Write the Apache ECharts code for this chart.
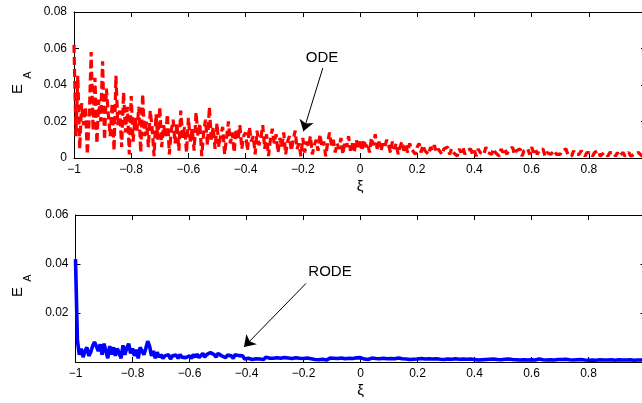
<!DOCTYPE html>
<html><head><meta charset="utf-8">
<script src="https://cdn.jsdelivr.net/npm/echarts@6/dist/echarts.min.js"></script>
<style>html,body{margin:0;padding:0;background:#fff;overflow:hidden}#c{width:642px;height:403px}</style>
</head><body><div id="c"></div>
<script>
// ---- data ----
const xiRange = [-1, 1];
const xiTickStep = 0.2;
const odeYTicks = [0, 0.02, 0.04, 0.06, 0.08];
const rodeYTicks = [0.02, 0.04, 0.06];

// E_A of the ODE solution, sampled uniformly over xi in [-1, 1]
const odeError = [
0.062,0.012,0.045,0.005,0.030,0.018,0.028,0.002,0.022,0.058,0.015,0.044,0.008,0.032,0.020,
0.053,0.010,0.038,0.024,0.012,0.030,0.004,0.045,0.018,0.026,0.006,0.036,0.014,0.028,0.002,
0.034,0.009,0.022,0.015,0.028,0.003,0.035,0.012,0.020,0.006,0.026,0.016,0.001,0.024,0.010,
0.028,0.006,0.018,0.012,0.024,0.002,0.015,0.021,0.008,0.019,0.004,0.026,0.011,0.017,0.003,
0.022,0.009,0.016,0.004,0.025,0.012,0.019,0.001,0.014,0.021,0.007,0.028,0.010,0.017,0.005,
0.019,0.006,0.013,0.017,0.002,0.011,0.020,0.008,0.014,0.003,0.016,0.010,0.018,0.005,0.012,
0.014,0.004,0.017,0.009,0.012,0.002,0.015,0.007,0.011,0.018,0.005,0.013,0.001,0.010,0.016,
0.008,0.013,0.003,0.011,0.006,0.014,0.002,0.009,0.012,0.004,0.010,0.015,0.005,0.008,0.001,
0.011,0.003,0.009,0.006,0.012,0.002,0.007,0.010,0.004,0.013,0.006,0.009,0.001,0.008,0.014,
0.007,0.010,0.003,0.008,0.005,0.011,0.002,0.009,0.006,0.012,0.004,0.008,0.003,0.010,0.006,
0.009,0.004,0.010,0.006,0.008,0.003,0.011,0.007,0.013,0.005,0.009,0.004,0.008,0.006,0.010,
0.007,0.003,0.009,0.005,0.008,0.002,0.006,0.009,0.004,0.007,0.003,0.008,0.005,0.006,0.002,
0.006,0.008,0.003,0.007,0.004,0.005,0.002,0.006,0.004,0.007,0.003,0.005,0.006,0.002,0.005,
0.004,0.006,0.002,0.005,0.003,0.004,0.001,0.005,0.003,0.006,0.002,0.004,0.003,0.005,0.002,
0.004,0.001,0.005,0.003,0.004,0.002,0.006,0.003,0.004,0.002,0.005,0.003,0.004,0.001,0.005,
0.003,0.005,0.002,0.004,0.003,0.006,0.002,0.004,0.003,0.005,0.001,0.004,0.003,0.005,0.002,
0.006,0.003,0.005,0.002,0.004,0.003,0.005,0.001,0.003,0.004,0.002,0.003,0.004,0.002,0.003,
0.002,0.004,0.003,0.005,0.002,0.003,0.001,0.004,0.002,0.003,0.002,0.004,0.003,0.001,0.003,
0.002,0.003,0.001,0.003,0.002,0.004,0.001,0.002,0.003,0.002,0.001,0.003,0.002,0.003,0.001,
0.003,0.001,0.002,0.003,0.001,0.002,0.003,0.001,0.002,0.002,0.001,0.003,0.002,0.001,0.002,
0.002
];

// E_A of the RODE solution, sampled uniformly over xi in [-1, 1]
const rodeError = [
0.042,0.009,0.003,0.0055,0.002,0.0045,0.006,0.0025,0.004,0.0065,0.0082,0.008,0.0045,0.0072,0.003,
0.0075,0.0045,0.0015,0.0065,0.003,0.006,0.0025,0.0055,0.005,0.0015,0.0068,0.003,0.0058,0.0075,0.0035,
0.0055,0.0025,0.005,0.0015,0.006,0.0068,0.003,0.0055,0.0085,0.0065,0.0025,0.0045,0.0015,0.004,0.002,
0.003,0.0015,0.0025,0.002,0.003,0.0012,0.0025,0.002,0.0028,0.0015,0.003,0.002,0.0025,0.0018,0.0022,
0.0025,0.0015,0.003,0.002,0.0032,0.0018,0.0025,0.0035,0.002,0.003,0.0022,0.0038,0.0045,0.003,0.002,
0.0035,0.004,0.0025,0.003,0.0018,0.0028,0.002,0.0025,0.0015,0.003,0.0022,0.0026,0.0018,0.0025,0.0012,
0.002,0.0015,0.0022,0.001,0.0018,0.0013,0.002,0.0012,0.0017,0.001,0.0019,0.0014,0.0016,0.0009,0.0015,
0.0012,0.0017,0.001,0.0015,0.0008,0.0018,0.0012,0.0016,0.001,0.0014,0.0009,0.0017,0.0011,0.0015,0.0012,
0.0014,0.001,0.0016,0.0008,0.0013,0.0017,0.001,0.0015,0.0009,0.0016,0.0011,0.0014,0.0008,0.0013,0.0016,
0.001,0.0015,0.0009,0.0014,0.0011,0.0016,0.0008,0.0013,0.0012,0.0015,0.0009,0.0014,0.0011,0.0017,0.0019,
0.0018,0.0014,0.0012,0.0015,0.001,0.0013,0.0016,0.0011,0.0014,0.0009,0.0013,0.0012,0.0015,0.001,0.0013,
0.0011,0.0014,0.0009,0.0013,0.0012,0.0016,0.001,0.0013,0.0008,0.0012,0.0014,0.001,0.0013,0.0011,0.0009,
0.0012,0.001,0.0014,0.0008,0.0012,0.0011,0.0013,0.0009,0.0012,0.001,0.0013,0.0008,0.0011,0.0012,0.001,
0.0009,0.0012,0.0008,0.0011,0.001,0.0013,0.0009,0.0011,0.0008,0.0012,0.001,0.0011,0.0009,0.0012,0.0013,
0.001,0.0012,0.0008,0.0011,0.0009,0.0012,0.001,0.0008,0.0011,0.0009,0.0012,0.0008,0.001,0.0011,0.0009,
0.0008,0.0011,0.0009,0.0012,0.0008,0.001,0.0011,0.0009,0.0012,0.0008,0.001,0.0009,0.0011,0.0008,0.001,
0.0009,0.0011,0.0008,0.001,0.0012,0.0008,0.0009,0.0011,0.0008,0.001,0.0009,0.0011,0.0008,0.0009,0.001,
0.0008,0.001,0.0009,0.0011,0.0008,0.0009,0.001,0.0008,0.0011,0.0009,0.0008,0.001,0.0009,0.0008,0.001,
0.0007,0.0009,0.0008,0.001,0.0007,0.0008,0.0009,0.0007,0.0008,0.001,0.0008,0.0007,0.0009,0.0008,0.0007,
0.0008,0.0009,0.0007,0.0008,0.001,0.0008,0.0007,0.0009,0.0008,0.0007,0.0009,0.0008,0.001,0.0008,0.0009,
0.0012
];

// annotations (data coordinates)
const odeLabel = { text: 'ODE', at: [-0.133, 0.055], from: [-0.130, 0.0493], to: [-0.198, 0.0146] };
const rodeLabel = { text: 'RODE', at: [-0.107, 0.0366], from: [-0.191, 0.0321], to: [-0.409, 0.0061] };

// ---- chart ----
const FONT = '"Liberation Sans", Arial, Helvetica, sans-serif';
const sampleXi = (arr) => arr.map((v, i) => [xiRange[0] + (xiRange[1] - xiRange[0]) * i / (arr.length - 1), v]);
const fmtNum = (v) => {
  const r = Math.round(v * 1e6) / 1e6;
  return r < 0 ? '\u2212' + String(-r) : String(r);
};
const chart = echarts.init(document.getElementById('c'));

function xAxes(grid) {
  const base = {
    gridIndex: grid, type: 'value', min: xiRange[0], max: xiRange[1], interval: xiTickStep,
    splitLine: { show: false },
    axisLine: { onZero: false, lineStyle: { color: '#000', width: 1 } },
    axisTick: { inside: true, length: 5, lineStyle: { color: '#000', width: 1 } }
  };
  return [
    Object.assign({}, base, {
      position: 'bottom',
      axisLabel: { color: '#000', fontSize: 12, fontFamily: FONT, margin: 6, formatter: fmtNum },
      name: '\u03BE', nameLocation: 'middle', nameGap: 21,
      nameTextStyle: { color: '#000', fontSize: 15, fontFamily: FONT }
    }),
    Object.assign({}, base, { position: 'top', axisLabel: { show: false } })
  ];
}
function yAxes(grid, ticks, showZero) {
  const base = {
    gridIndex: grid, type: 'value', min: 0, max: ticks[ticks.length - 1], interval: 0.02,
    splitLine: { show: false },
    axisLine: { onZero: false, lineStyle: { color: '#000', width: 1 } },
    axisTick: { inside: true, length: 5, lineStyle: { color: '#000', width: 1 } }
  };
  return [
    Object.assign({}, base, {
      position: 'left',
      axisLabel: { color: '#000', fontSize: 12, fontFamily: FONT, margin: 7,
        formatter: (v) => (Math.abs(v) < 1e-12 && !showZero) ? '' : fmtNum(v) }
    }),
    Object.assign({}, base, { position: 'right', axisLabel: { show: false } })
  ];
}

function arrow(a) {
  return {
    silent: true, animation: false,
    symbol: ['none', 'arrow'], symbolSize: 11,
    label: { show: false },
    lineStyle: { color: '#000', width: 1, type: 'solid' },
    emphasis: { disabled: true },
    data: [[{ coord: a.from }, { coord: a.to }]]
  };
}

chart.setOption({
  animation: false,
  backgroundColor: '#fff',
  grid: [
    { left: 74, width: 572, top: 12, height: 146, containLabel: false, outerBoundsMode: 'none' },
    { left: 75.5, width: 570, top: 215, height: 147, containLabel: false, outerBoundsMode: 'none' }
  ],
  xAxis: xAxes(0).concat(xAxes(1)),
  yAxis: yAxes(0, odeYTicks, true).concat(yAxes(1, rodeYTicks, false)),
  series: [
    {
      type: 'line', xAxisIndex: 0, yAxisIndex: 0, data: sampleXi(odeError),
      showSymbol: false, symbol: 'none',
      lineStyle: { color: '#ff0000', width: 3.2, type: [8, 4], cap: 'butt' },
      markLine: arrow(odeLabel)
    },
    {
      type: 'line', xAxisIndex: 2, yAxisIndex: 2, data: sampleXi(rodeError),
      showSymbol: false, symbol: 'none',
      lineStyle: { color: '#0000ff', width: 3.6 },
      markLine: arrow(rodeLabel)
    }
  ]
});

const p0 = chart.convertToPixel({ gridIndex: 0 }, odeLabel.at);
const p1 = chart.convertToPixel({ gridIndex: 1 }, rodeLabel.at);
const txt = (x, y, text, size, rot) => ({
  type: 'text', x: x, y: y, rotation: rot || 0,
  style: { text: text, fill: '#000', font: size + 'px ' + FONT, textAlign: 'center', textVerticalAlign: 'middle' }
});
chart.setOption({
  graphic: [
    txt(p0[0], p0[1], odeLabel.text, 15),
    txt(p1[0], p1[1], rodeLabel.text, 15),
    txt(18, 89, 'E', 15, Math.PI / 2),
    txt(28, 75, 'A', 11, Math.PI / 2),
    txt(18, 292, 'E', 15, Math.PI / 2),
    txt(28, 278, 'A', 11, Math.PI / 2)
  ]
});
</script>
</body></html>
